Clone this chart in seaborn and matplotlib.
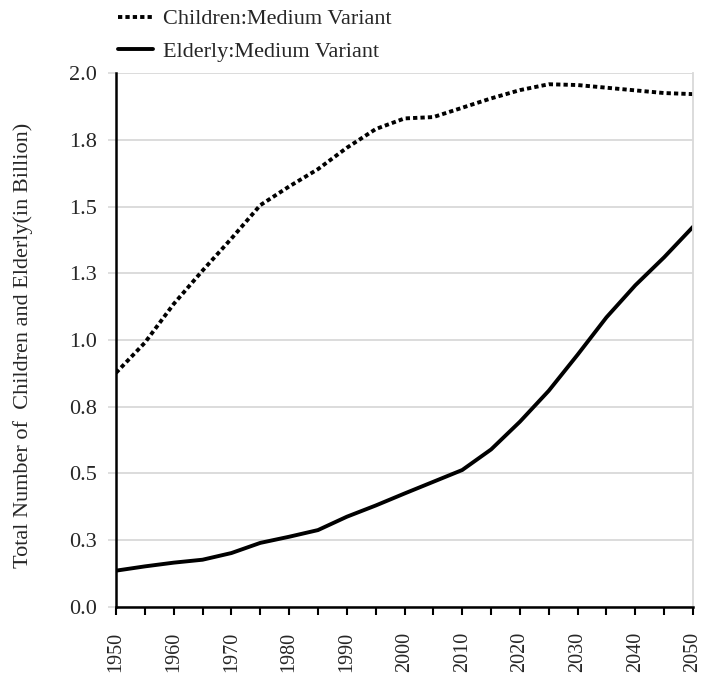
import pandas as pd
import seaborn as sns
import numpy as np
import matplotlib.pyplot as plt

years = [1950, 1955, 1960, 1965, 1970, 1975, 1980, 1985, 1990, 1995, 2000,
         2005, 2010, 2015, 2020, 2025, 2030, 2035, 2040, 2045, 2050]
children = [0.877, 0.99, 1.135, 1.26, 1.38, 1.505, 1.575, 1.64, 1.72, 1.79, 1.83,
            1.835, 1.87, 1.905, 1.936, 1.958, 1.955, 1.945, 1.935, 1.925, 1.921]
elderly = [0.136, 0.152, 0.166, 0.177, 0.202, 0.24, 0.263, 0.288, 0.338, 0.38, 0.425,
           0.469, 0.513, 0.59, 0.694, 0.81, 0.945, 1.085, 1.205, 1.31, 1.424]
series_names = ["Children:Medium Variant", "Elderly:Medium Variant"]
ytick_vals = [0, 0.25, 0.5, 0.75, 1.0, 1.25, 1.5, 1.75, 2.0]
ytick_labels = ["0.0", "0.3", "0.5", "0.8", "1.0", "1.3", "1.5", "1.8", "2.0"]
xtick_vals = list(range(1950, 2051, 10))

df = pd.concat([
    pd.DataFrame({"Year": years, "Value": children, "Series": series_names[0]}),
    pd.DataFrame({"Year": years, "Value": elderly, "Series": series_names[1]}),
])

sns.set_style("white")
plt.rcParams['font.family'] = ['Liberation Serif', 'DejaVu Serif']

fig = plt.figure(figsize=(7.1, 6.8), dpi=100)
ax = fig.add_axes([0.1634, 0.1074, 0.8127, 0.7852])

sns.lineplot(data=df, x="Year", y="Value", hue="Series", style="Series",
             palette=["black", "black"],
             dashes={series_names[0]: (1.1, 0.8), series_names[1]: ""},
             linewidth=2.8, ax=ax, legend=False)

ax.set_xlim(1950, 2050)
ax.set_ylim(0, 2.0)
ax.set_yticks(ytick_vals)
ax.set_yticklabels(ytick_labels)
ax.set_xticks(xtick_vals)
ax.set_xticks(range(1955, 2050, 10), minor=True)
ax.set_xticklabels([str(y) for y in xtick_vals], rotation=90)
ax.tick_params(axis='x', which='both', direction='out', length=6, width=1.5,
               color='black', bottom=True, labelsize=14.5, pad=12)
ax.tick_params(axis='y', direction='out', length=6, width=1.2, color='#d9d9d9',
               left=True, labelsize=16, pad=8)
ax.grid(axis='y', color='#d9d9d9', linewidth=1.3)
ax.set_axisbelow(True)

for s in ['left', 'bottom']:
    ax.spines[s].set_color('black')
    ax.spines[s].set_linewidth(1.8)
ax.spines['right'].set_color('#d9d9d9')
ax.spines['right'].set_linewidth(1.3)
ax.spines['top'].set_visible(False)

ax.set_xlabel("")
ax.set_ylabel("Total Number of  Children and Elderly(in Billion)", fontsize=16)
ax.yaxis.set_label_coords(-0.144, 0.49)

handles = ax.get_lines()[:2]
ax.legend(handles, series_names, loc='upper left', bbox_to_anchor=(0.144, 1.01),
          bbox_transform=fig.transFigure, frameon=False, fontsize=16,
          handlelength=1.6, handletextpad=0.45, labelspacing=0.55, borderpad=0.2)

fig.savefig("out.png", dpi=100)
